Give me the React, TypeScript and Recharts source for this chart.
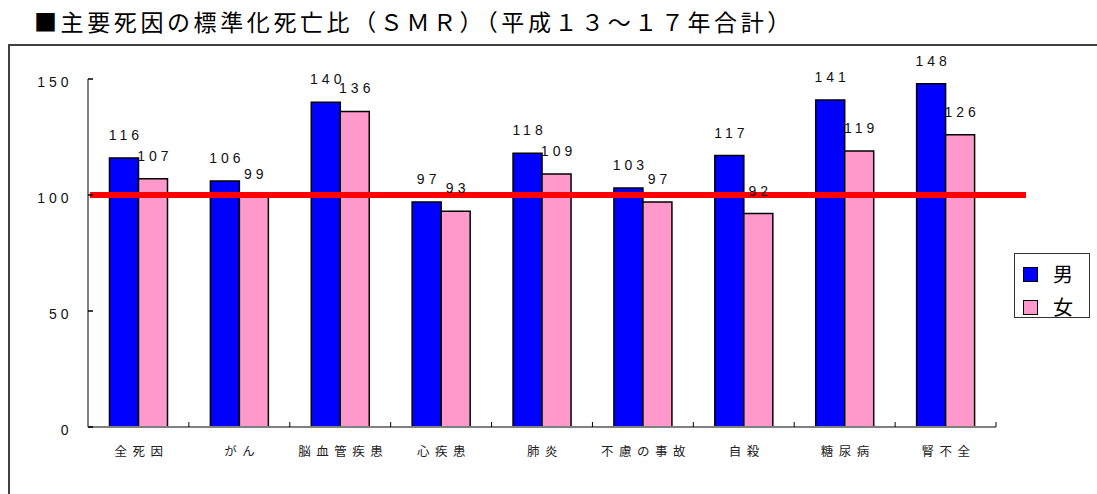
import React from 'react';
import { BarChart, Bar, XAxis, YAxis, ReferenceLine, LabelList, Legend } from 'recharts';

const causes = ['全死因', 'がん', '脳血管疾患', '心疾患', '肺炎', '不慮の事故', '自殺', '糖尿病', '腎不全'];
const maleSmr = [116, 106, 140, 97, 118, 103, 117, 141, 148];
const femaleSmr = [107, 99, 136, 93, 109, 97, 92, 119, 126];
const yTicks = [0, 50, 100, 150];
const baseLine = 100;
const seriesOrder = ['male', 'female'];

const data = causes.map((name, i) => ({ name, male: maleSmr[i], female: femaleSmr[i] }));

const numFont = '"Liberation Sans", Arial, sans-serif';
const jpFont = '"Noto Sans CJK JP", sans-serif';

// y ticks point inward, label well left of the axis
const YTick = (props: any) => {
  const { x, y, payload } = props;
  return (
    <g>
      <line x1={x} y1={y} x2={x + 5} y2={y} stroke="#000" strokeWidth={1.5} />
      <text x={x - 15.5} y={y + 3} textAnchor="end" dominantBaseline="central"
        fontFamily={numFont} fontSize={14} letterSpacing={4} fill="#111">
        {payload.value}
      </text>
    </g>
  );
};

// category labels + small upward ticks at category boundaries
const XTick = (props: any) => {
  const { x, y, payload } = props;
  const half = payload.offset ?? 50;
  return (
    <g>
      <line x1={x + half} y1={y} x2={x + half} y2={y - 5} stroke="#000" strokeWidth={1} />
      <text x={x + 3} y={y + 23} textAnchor="middle" dominantBaseline="central"
        fontFamily={jpFont} fontSize={12.5} letterSpacing={5.5} fill="#222">
        {payload.value}
      </text>
    </g>
  );
};

const ValueLabel = (props: any) => {
  const { x, y, width, value } = props;
  return (
    <text x={x + width / 2 + 2} y={y - 23} textAnchor="middle" dominantBaseline="central"
      fontFamily={numFont} fontSize={14} letterSpacing={4} fill="#111">
      {value}
    </text>
  );
};

const RedLine = (props: any) => {
  const { x1, y1, x2, y2 } = props;
  return <line x1={x1 + 2} y1={y1} x2={x2 + 30} y2={y2} stroke="#FF0000" strokeWidth={6} />;
};

const LegendBox = (props: any) => {
  const items = [...(props.payload || [])].sort(
    (a: any, b: any) => seriesOrder.indexOf(a.dataKey) - seriesOrder.indexOf(b.dataKey));
  return (
    <div style={{ width: 76, height: 65, border: '1px solid #333', background: '#fff', boxSizing: 'border-box', position: 'relative' }}>
      {items.map((p: any, i: number) => (
        <div key={p.value} style={{ position: 'absolute', left: 8, top: 10 + i * 33, display: 'flex', alignItems: 'center' }}>
          <span style={{ width: 15, height: 15, background: p.color, border: '1.5px solid #000', boxSizing: 'border-box', display: 'inline-block' }} />
          <span style={{ marginLeft: 15, fontFamily: jpFont, fontSize: 20, lineHeight: '20px', color: '#000' }}>{p.value}</span>
        </div>
      ))}
    </div>
  );
};

export default function App() {
  return (
    <div style={{ position: 'absolute', left: 0, top: 0, width: 1097, height: 494, overflow: 'hidden', background: '#fff' }}>
      <div style={{ position: 'absolute', left: 34, top: 8, fontFamily: jpFont, fontSize: 23, lineHeight: '26px', letterSpacing: 3.6, color: '#000', whiteSpace: 'nowrap' }}>
        ■主要死因の標準化死亡比（ＳＭＲ）（平成１３～１７年合計）
      </div>
      <div style={{ position: 'absolute', left: 8, top: 44, width: 1120, height: 480, border: '2px solid #404040' }} />
      <div style={{ position: 'absolute', left: 0, top: 0 }}>
        <BarChart width={1097} height={494} data={data}
          margin={{ top: 79, left: 87, right: 101, bottom: 66 }}
          barCategoryGap="21.3%" barGap={0}>
          <XAxis dataKey="name" height={1} tickSize={0} tickMargin={0} tickLine={false}
            axisLine={{ stroke: '#808080', strokeWidth: 2 }} tick={<XTick />} interval={0} />
          <YAxis width={1} domain={[0, 150]} ticks={yTicks} tickSize={0} tickMargin={0} tickLine={false}
            axisLine={{ stroke: '#808080', strokeWidth: 2 }} tick={<YTick />} />
          <Bar dataKey="male" name="男" fill="#0000FF" stroke="#000" strokeWidth={1.5} isAnimationActive={false}>
            <LabelList dataKey="male" content={<ValueLabel />} />
          </Bar>
          <Bar dataKey="female" name="女" fill="#FF99CC" stroke="#000" strokeWidth={1.5} isAnimationActive={false}>
            <LabelList dataKey="female" content={<ValueLabel />} />
          </Bar>
          <ReferenceLine y={baseLine} shape={<RedLine />} />
          <Legend layout="vertical" align="center" verticalAlign="middle" content={<LegendBox />}
            wrapperStyle={{ left: 1014, top: 253, width: 76, height: 65 }} />
        </BarChart>
      </div>
    </div>
  );
}
